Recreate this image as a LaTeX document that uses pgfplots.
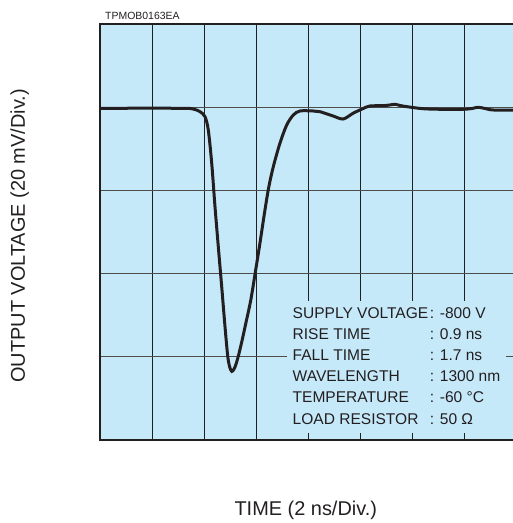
\documentclass[border=0pt]{standalone}
\usepackage{fontspec}
\setmainfont{Liberation Sans}
\usepackage{pgfplots}
\pgfplotsset{compat=1.18}
\definecolor{bg}{RGB}{198,233,250}
\definecolor{ink}{RGB}{35,31,32}
\begin{document}
\begin{tikzpicture}
\useasboundingbox (-100bp,-83bp) rectangle (413bp,440bp);
\begin{axis}[
  at={(0,0)}, anchor=south west,
  scale only axis, width=416bp, height=416bp,
  xmin=0, xmax=16, ymin=-80, ymax=20,
  xtick={2,4,...,14}, ytick={-60,-40,-20,0},
  xticklabels={}, yticklabels={},
  major tick length=0pt,
  grid=major,
  x grid style={ink, line width=0.9bp},
  y grid style={ink!80, line width=0.9bp},
  axis line style={ink, line width=2bp},
  axis background/.style={fill=bg},
  clip=false,
]
\addplot[ink, line width=3bp, smooth, tension=0.5] coordinates {
(0,-0.26) (3.077,-0.26) (3.577,-0.43) (3.846,-1.08) (4.038,-2.28) (4.165,-5.48)
(4.296,-13.41) (4.423,-23.92) (4.550,-33.53) (4.681,-43.15) (4.808,-52.76)
(4.912,-59.81) (4.990,-62.5) (5.070,-63.5) (5.150,-63.0) (5.230,-61.8)
(5.330,-59.6) (5.460,-56.2) (5.596,-52.3) (5.800,-46.35) (5.969,-39.86) (6.135,-33.37)
(6.327,-25.43) (6.492,-19.18) (6.673,-14.13) (6.923,-8.61) (7.181,-4.28)
(7.435,-1.88) (7.692,-0.91) (8.19,-0.91) (8.46,-1.08) (8.96,-2.1) (9.35,-2.84)
(9.73,-1.47) (10.08,-0.43) (10.38,0.29) (10.88,0.36) (11.15,0.53) (11.35,0.7)
(11.54,0.41) (11.81,0.12) (12.42,-0.36) (13.08,-0.5) (13.96,-0.5) (14.31,-0.31)
(14.54,-0.02) (14.81,-0.31) (15.12,-0.67) (16.0,-0.67)
};
\node[anchor=north west, fill=bg, inner xsep=5.5bp, inner ysep=2.6bp,
      font=\fontsize{15.6}{21.3}\selectfont, text=ink] at (axis cs:7.192,-46.44)
{\begin{tabular}{@{}l@{\hspace{1.5bp}}l@{}}
SUPPLY VOLTAGE & : -800 V\\
RISE TIME & : 0.9 ns\\
FALL TIME & : 1.7 ns\\
WAVELENGTH & : 1300 nm\\
TEMPERATURE & : -60 °C\\
LOAD RESISTOR & : 50 Ω
\end{tabular}};
\node[anchor=base west, font=\fontsize{10.5}{12}\selectfont, text=ink] at (axis cs:0.065,21.13) {TPMOB0163EA};
\node[anchor=base, font=\fontsize{20}{24}\selectfont, text=ink] at (axis cs:7.915,-98.03) {TIME (2 ns/Div.)};
\node[anchor=base, rotate=90, font=\fontsize{20}{24}\selectfont, text=ink] at (axis cs:-2.885,-30.96) {OUTPUT VOLTAGE (20 mV/Div.)};
\end{axis}
\end{tikzpicture}
\end{document}
